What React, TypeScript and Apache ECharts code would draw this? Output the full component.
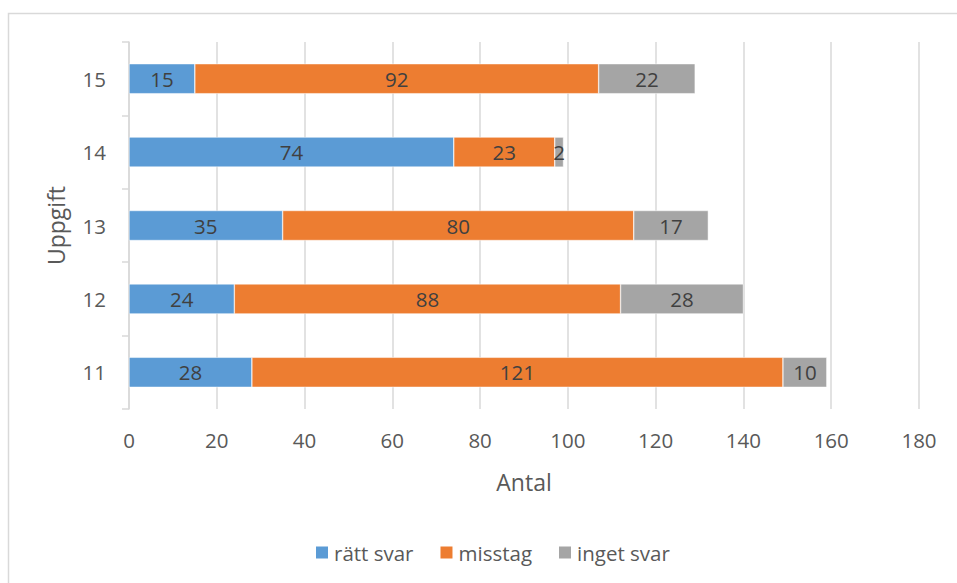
import React, { useEffect, useRef } from "react";
import * as echarts from "echarts";

const categories = ["11", "12", "13", "14", "15"];
const rattSvar = [28, 24, 35, 74, 15];
const misstag = [121, 88, 80, 23, 92];
const ingetSvar = [10, 28, 17, 2, 22];
const seriesNames = ["rätt svar", "misstag", "inget svar"];
const colors = ["#5B9BD5", "#ED7D31", "#A5A5A5"];

const FONT = "'Open Sans', 'DejaVu Sans', sans-serif";

export default function App() {
  const ref = useRef<HTMLDivElement>(null);

  useEffect(() => {
    if (!ref.current) return;
    const chart = echarts.init(ref.current, null, { renderer: "svg" });
    const values = [rattSvar, misstag, ingetSvar];
    chart.setOption({
      animation: false,
      backgroundColor: "#ffffff",
      color: colors,
      graphic: [
        {
          type: "rect",
          shape: { x: 8.5, y: 13.5, width: 1000, height: 1000 },
          style: { fill: "none", stroke: "#d9d9d9", lineWidth: 1.5 },
          silent: true,
        },
      ],
      grid: { left: 129, right: 38, top: 42, bottom: 174 },
      legend: {
        top: 537,
        left: 309,
        itemWidth: 14,
        itemHeight: 14,
        itemGap: 25,
        icon: "rect",
        textStyle: { color: "#595959", fontSize: 20.5, fontFamily: FONT },
        data: seriesNames,
      },
      xAxis: {
        type: "value",
        min: 0,
        max: 180,
        interval: 20,
        name: "Antal",
        nameLocation: "middle",
        nameGap: 61,
        nameTextStyle: { color: "#595959", fontSize: 23, fontFamily: FONT },
        axisLine: { show: false },
        axisTick: { show: false },
        axisLabel: { color: "#595959", fontSize: 20.5, fontFamily: FONT, margin: 20 },
        splitLine: { lineStyle: { color: "#d9d9d9", width: 1.5 } },
      },
      yAxis: {
        type: "category",
        data: categories,
        name: "Uppgift",
        nameLocation: "middle",
        nameGap: 62,
        nameRotate: 90,
        nameTextStyle: { color: "#595959", fontSize: 23, fontFamily: FONT },
        axisLine: { show: true, lineStyle: { color: "#d9d9d9", width: 1.5 } },
        axisTick: { show: true, length: 7, lineStyle: { color: "#d9d9d9", width: 1.5 } },
        axisLabel: { color: "#595959", fontSize: 20.5, fontFamily: FONT, margin: 23 },
      },
      series: seriesNames.map((name, i) => ({
        name,
        type: "bar",
        stack: "total",
        barWidth: 30,
        data: values[i],
        itemStyle: { color: colors[i], borderColor: "#ffffff", borderWidth: 0.5 },
        label: {
          show: true,
          position: "inside",
          color: "#404040",
          fontSize: 20.5,
          fontFamily: FONT,
        },
      })),
    });
    return () => chart.dispose();
  }, []);

  return (
    <div
      ref={ref}
      style={{ position: "absolute", left: 0, top: 0, width: 957, height: 583 }}
    />
  );
}
